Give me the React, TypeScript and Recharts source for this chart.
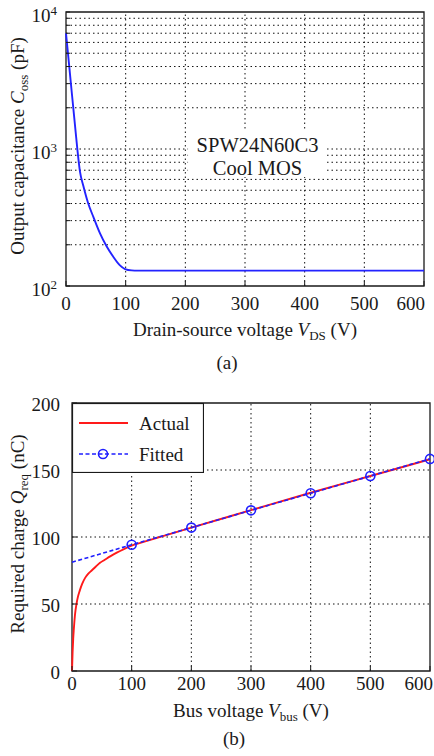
import React from 'react';
import {
  LineChart,
  Line,
  XAxis,
  YAxis,
  ReferenceLine,
  ReferenceArea,
  ReferenceDot,
  Legend,
  Label,
} from 'recharts';

const FONT = '"Liberation Serif", "Times New Roman", Times, serif';
const FS = 19;
const SUB = 13;
const INK = '#1a1a1a';
const GRID = '#111';

// ---------- (a) Output capacitance vs drain-source voltage ----------
const cossVoltage = [0, 5, 10, 15, 19, 23.5, 29, 37, 46, 57, 68, 79, 90, 99, 110, 120, 200, 300, 400, 500, 600];
const cossPf = [7000, 4200, 2500, 1500, 1000, 680, 540, 404, 318, 242, 195, 164, 142, 133, 130, 129.5, 129.5, 129.5, 129.5, 129.5, 129.5];
const cossXTicks = [0, 100, 200, 300, 400, 500, 600];
const cossYTicks = [
  100, 200, 300, 400, 500, 600, 700, 800, 900,
  1000, 2000, 3000, 4000, 5000, 6000, 7000, 8000, 9000,
  10000,
];
const cossDecades = [100, 1000, 10000];
const annotationLines = ['SPW24N60C3', 'Cool MOS'];
const annotationV = 321;
const annotationC = 927;

// ---------- (b) Required charge vs bus voltage ----------
const actualV = [0, 1, 2, 3, 5, 7.5, 10, 13, 17, 22, 27, 33, 40, 47, 55, 64, 75, 87, 100, 120, 200, 300, 400, 500, 600];
const actualQ = [0, 14, 24, 31, 42, 50, 55.5, 60, 65, 69.5, 72.5, 75, 78, 80.8, 83, 85.5, 88.3, 91, 93.6, 96.3, 107, 120, 133, 145.5, 158];
const fittedV = [0, 100, 200, 300, 400, 500, 600];
const fittedQ = [81.2, 94.2, 107.0, 119.9, 132.7, 145.5, 158.3];
const qXTicks = [0, 100, 200, 300, 400, 500, 600];
const qYTicks = [0, 50, 100, 150, 200];

const cossData = cossVoltage.map((v, i) => ({ v, c: cossPf[i] }));
const actualData = actualV.map((v, i) => ({ v, q: actualQ[i] }));
const fittedData = fittedV.map((v, i) => ({ v, q: fittedQ[i] }));

const txt = { fontFamily: FONT, fontSize: FS, fill: INK } as const;

const XTickA = (props: any) => {
  const { x, y, payload } = props;
  const last = payload.value === 600;
  return (
    <text x={last ? x + 1 : x} y={y + 17} dy="0.35em" textAnchor={last ? 'end' : 'middle'} {...txt}>
      {payload.value}
    </text>
  );
};

const YTickLog = (props: any) => {
  const { x, y, payload } = props;
  if (!cossDecades.includes(payload.value)) return <g />;
  const exp = Math.round(Math.log10(payload.value));
  return (
    <text x={x - 9} y={y + 3} dy="0.35em" textAnchor="end" {...txt}>
      <tspan>10</tspan>
      <tspan fontSize={SUB} dy={-7}>{exp}</tspan>
    </text>
  );
};

const XTickB = (props: any) => {
  const { x, y, payload } = props;
  const last = payload.value === 600;
  return (
    <text x={last ? 433 : x} y={y + 12} dy="0.35em" textAnchor={last ? 'end' : 'middle'} {...txt}>
      {payload.value}
    </text>
  );
};

const YTickB = (props: any) => {
  const { x, y, payload } = props;
  return (
    <text x={x - 12} y={y + 1} dy="0.35em" textAnchor="end" {...txt}>
      {payload.value}
    </text>
  );
};

const XTitle = (props: any, offset: number, main: string, v: string, sub: string) => {
  const vb = props.viewBox;
  const cx = vb.x + vb.width / 2;
  const cy = vb.y + offset;
  return (
    <text x={cx} y={cy} dy="0.35em" textAnchor="middle" {...txt} style={{ whiteSpace: 'pre' }}>
      <tspan>{main}</tspan>
      <tspan fontStyle="italic">{v}</tspan>
      <tspan fontSize={SUB} dy={4}>{sub}</tspan>
      <tspan dy={-4}>{' (V)'}</tspan>
    </text>
  );
};

const YTitle = (props: any, main: string, v: string, sub: string, unit: string) => {
  const vb = props.viewBox;
  const cx = 17;
  const cy = vb.y + vb.height / 2 - 3;
  return (
    <text
      x={cx}
      y={cy}
      dy="0.35em"
      textAnchor="middle"
      transform={`rotate(-90 ${cx} ${cy})`}
      {...txt}
      style={{ whiteSpace: 'pre' }}
    >
      <tspan>{main}</tspan>
      <tspan fontStyle="italic">{v}</tspan>
      <tspan fontSize={SUB} dy={4}>{sub}</tspan>
      <tspan dy={-4}>{` (${unit})`}</tspan>
    </text>
  );
};

const Annotation = (props: any) => {
  const { cx, cy } = props;
  return (
    <g>
      <rect x={cx - 69.5} y={cy - 23.5} width={139} height={47} fill="#fff" />
      <text x={cx} y={cy - 8.5} dy="0.35em" textAnchor="middle" {...txt} fontSize={20.5}>
        {annotationLines[0]}
      </text>
      <text x={cx} y={cy + 14.5} dy="0.35em" textAnchor="middle" {...txt} fontSize={20.5}>
        {annotationLines[1]}
      </text>
    </g>
  );
};

const FittedDot = (props: any) => {
  const { cx, cy, payload, index } = props;
  if (payload.v === 0) return <g key={`fd-${index}`} />;
  return (
    <circle
      key={`fd-${index}`}
      cx={cx}
      cy={cy}
      r={4.5}
      fill="none"
      stroke="#1f1fff"
      strokeWidth={1.6}
    />
  );
};

const LegendBox = () => (
  <svg width={132} height={70} style={{ display: 'block' }}>
    <rect x={0.5} y={0.5} width={131} height={69} fill="#fff" stroke={INK} strokeWidth={1.2} />
    <line x1={7} x2={56} y1={20} y2={20} stroke="#ff1a1a" strokeWidth={1.8} />
    <text x={67} y={20} dy="0.35em" {...txt}>Actual</text>
    <line x1={7} x2={56} y1={51} y2={51} stroke="#1f1fff" strokeWidth={1.6} strokeDasharray="4 2.5" />
    <circle cx={31} cy={51} r={4.5} fill="none" stroke="#1f1fff" strokeWidth={1.6} />
    <text x={67} y={51} dy="0.35em" {...txt}>Fitted</text>
  </svg>
);

const gridLine = {
  stroke: GRID,
  strokeDasharray: '1.5 3',
  strokeWidth: 1,
} as any;

const innerX = (ticks: number[]) => ticks.slice(1, -1);

export default function App() {
  return (
    <div
      style={{
        position: 'absolute',
        left: 0,
        top: 0,
        width: 434,
        height: 756,
        background: '#fff',
        fontFamily: FONT,
        overflow: 'hidden',
      }}
    >
      {/* (a) */}
      <div style={{ position: 'absolute', left: 0, top: 0 }}>
        <LineChart width={434} height={345} data={cossData} margin={{ top: 12, right: 10, bottom: 0, left: 0 }}>
          <XAxis
            dataKey="v"
            type="number"
            domain={[0, 600]}
            ticks={cossXTicks}
            height={59}
            axisLine={false}
            tickSize={-5}
            tickMargin={5}
            tickLine={{ stroke: INK }}
            tick={<XTickA />}
            interval={0}
          >
            <Label content={(p: any) => XTitle(p, 43, 'Drain-source voltage ', 'V', 'DS')} />
          </XAxis>
          <YAxis
            dataKey="c"
            type="number"
            scale="log"
            domain={[100, 10000]}
            allowDataOverflow
            ticks={cossYTicks}
            width={66}
            axisLine={false}
            tickSize={-4}
            tickMargin={4}
            tickLine={{ stroke: INK }}
            tick={<YTickLog />}
            interval={0}
          >
            <Label content={(p: any) => YTitle(p, 'Output capacitance ', 'C', 'oss', 'pF')} />
          </YAxis>
          {innerX(cossYTicks).map((t) => (
            <ReferenceLine key={`ha-${t}`} y={t} {...gridLine} />
          ))}
          {innerX(cossXTicks).map((t) => (
            <ReferenceLine key={`va-${t}`} x={t} {...gridLine} />
          ))}
          <ReferenceDot x={annotationV} y={annotationC} r={1} shape={(p: any) => <Annotation {...p} />} />
          <ReferenceArea x1={0} x2={600} y1={100} y2={10000} fill="none" stroke={INK} strokeWidth={1.3} />
          <Line
            type="monotone"
            dataKey="c"
            stroke="#2323ff"
            strokeWidth={1.9}
            dot={false}
            isAnimationActive={false}
          />
        </LineChart>
      </div>
      <div
        style={{
          position: 'absolute',
          left: 227,
          top: 362,
          transform: 'translate(-50%, -50%)',
          fontSize: FS,
          color: INK,
          lineHeight: 1,
        }}
      >
        (a)
      </div>

      {/* (b) */}
      <div style={{ position: 'absolute', left: 0, top: 370 }}>
        <LineChart width={434} height={355} margin={{ top: 33, right: 4, bottom: 0, left: 0 }}>
          <XAxis
            dataKey="v"
            type="number"
            domain={[0, 600]}
            ticks={qXTicks}
            height={54}
            axisLine={false}
            tickSize={-5}
            tickMargin={5}
            tickLine={{ stroke: INK }}
            tick={<XTickB />}
            interval={0}
            allowDuplicatedCategory={false}
          >
            <Label content={(p: any) => XTitle(p, 39, 'Bus voltage ', 'V', 'bus')} />
          </XAxis>
          <YAxis
            dataKey="q"
            type="number"
            domain={[0, 200]}
            ticks={qYTicks}
            width={72}
            axisLine={false}
            tickSize={-5}
            tickMargin={5}
            tickLine={{ stroke: INK }}
            tick={<YTickB />}
            interval={0}
          >
            <Label content={(p: any) => YTitle(p, 'Required charge ', 'Q', 'req', 'nC')} />
          </YAxis>
          {innerX(qYTicks).map((t) => (
            <ReferenceLine key={`hb-${t}`} y={t} {...gridLine} />
          ))}
          {innerX(qXTicks).map((t) => (
            <ReferenceLine key={`vb-${t}`} x={t} {...gridLine} />
          ))}
          <ReferenceArea x1={0} x2={600} y1={0} y2={200} fill="none" stroke={INK} strokeWidth={1.3} />
          <Line
            data={actualData}
            type="monotone"
            dataKey="q"
            name="Actual"
            stroke="#ff1a1a"
            strokeWidth={1.9}
            dot={false}
            isAnimationActive={false}
          />
          <Line
            data={fittedData}
            type="linear"
            dataKey="q"
            name="Fitted"
            stroke="#1f1fff"
            strokeWidth={1.6}
            strokeDasharray="4 2.5"
            dot={(p: any) => <FittedDot {...p} />}
            isAnimationActive={false}
          />
          <Legend
            layout="vertical"
            align="center"
            verticalAlign="middle"
            wrapperStyle={{ left: 72, top: 33, width: 132, height: 70, margin: 0, padding: 0 }}
            content={() => <LegendBox />}
          />
        </LineChart>
      </div>
      <div
        style={{
          position: 'absolute',
          left: 234,
          top: 738,
          transform: 'translate(-50%, -50%)',
          fontSize: FS,
          color: INK,
          lineHeight: 1,
        }}
      >
        (b)
      </div>
    </div>
  );
}
